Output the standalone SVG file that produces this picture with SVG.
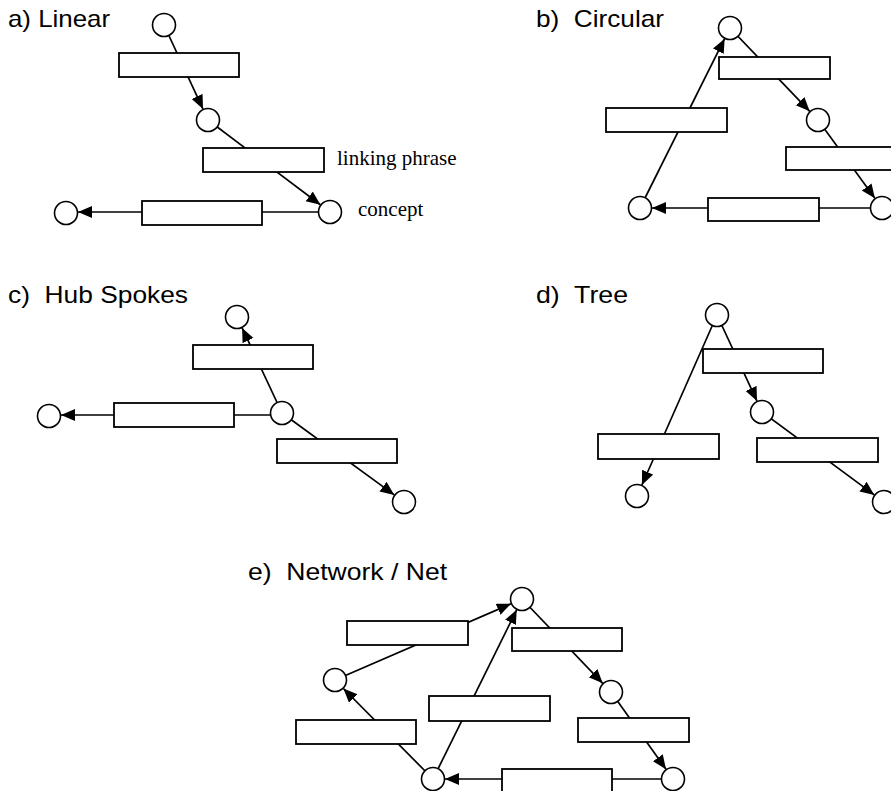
<svg xmlns="http://www.w3.org/2000/svg" width="891" height="791" viewBox="0 0 891 791">
<style>
.t{font-family:"Liberation Sans",Arial,sans-serif;font-size:24px;fill:#000}
.s{font-family:"Liberation Serif","Times New Roman",serif;font-size:21px;fill:#000}
.c{fill:#fff;stroke:#000;stroke-width:1.6}
.r{fill:#fff;stroke:#000;stroke-width:1.8}
.l{stroke:#000;stroke-width:1.7;fill:none}
.a{marker-end:url(#ah)}
</style>
<defs>
<marker id="ah" markerUnits="userSpaceOnUse" markerWidth="15" markerHeight="13" refX="14" refY="6" orient="auto">
<path d="M0,0 L14,6 L0,12 z" fill="#000"/>
</marker>
</defs>
<rect width="891" height="791" fill="#fff"/>
<g id="titles">
<text class="t" x="8" y="27" textLength="102" lengthAdjust="spacingAndGlyphs">a) Linear</text>
<text class="t" x="536" y="27" textLength="128" lengthAdjust="spacingAndGlyphs" xml:space="preserve">b)  Circular</text>
<text class="t" x="8" y="303" textLength="180" lengthAdjust="spacingAndGlyphs" xml:space="preserve">c)  Hub Spokes</text>
<text class="t" x="536" y="303" textLength="92" lengthAdjust="spacingAndGlyphs" xml:space="preserve">d)  Tree</text>
<text class="t" x="248" y="580" textLength="199" lengthAdjust="spacingAndGlyphs" xml:space="preserve">e)  Network / Net</text>
</g>
<g id="connectors">
<line class="l a" x1="164" y1="25" x2="203" y2="109.1"/>
<line class="l a" x1="208" y1="120" x2="320.4" y2="204.8"/>
<line class="l a" x1="330" y1="212" x2="78" y2="212"/>
<line class="l a" x1="730" y1="28" x2="809.7" y2="111.3"/>
<line class="l a" x1="818" y1="120" x2="874.9" y2="198.3"/>
<line class="l a" x1="882" y1="208" x2="652" y2="208"/>
<line class="l a" x1="640" y1="208" x2="724.6" y2="38.7"/>
<line class="l a" x1="282" y1="413" x2="242.1" y2="327.9"/>
<line class="l a" x1="282" y1="415" x2="61" y2="415"/>
<line class="l a" x1="282" y1="413" x2="394.3" y2="494.9"/>
<line class="l a" x1="717" y1="315" x2="757" y2="401.1"/>
<line class="l a" x1="717" y1="315" x2="641.9" y2="485"/>
<line class="l a" x1="762" y1="412" x2="874.3" y2="494.9"/>
<line class="l a" x1="335" y1="680" x2="511" y2="603.8"/>
<line class="l a" x1="433" y1="779" x2="516.7" y2="609.8"/>
<line class="l a" x1="522" y1="599" x2="602.7" y2="683.3"/>
<line class="l a" x1="611" y1="692" x2="666" y2="769.2"/>
<line class="l a" x1="673" y1="779" x2="445" y2="779"/>
<line class="l a" x1="433" y1="779" x2="343.4" y2="688.5"/>
</g>
<g id="a-c1"><circle class="c" cx="164" cy="25" r="11.5"/></g>
<g id="a-r1"><rect class="r" x="119" y="53" width="120" height="24"/></g>
<g id="a-c2"><circle class="c" cx="208" cy="120" r="11.5"/></g>
<g id="a-r2"><rect class="r" x="203" y="148" width="121" height="24"/><text class="s" x="337" y="165">linking phrase</text></g>
<g id="a-c3"><circle class="c" cx="330" cy="212" r="11.5"/><text class="s" x="358" y="216">concept</text></g>
<g id="a-r3"><rect class="r" x="142" y="201" width="120" height="24"/></g>
<g id="a-c4"><circle class="c" cx="66" cy="213" r="11.5"/></g>
<g id="b-c1"><circle class="c" cx="730" cy="28" r="11.5"/></g>
<g id="b-r1"><rect class="r" x="719" y="57" width="111" height="22"/></g>
<g id="b-c2"><circle class="c" cx="818" cy="120" r="11.5"/></g>
<g id="b-r2"><rect class="r" x="786" y="147" width="120" height="23"/></g>
<g id="b-c3"><circle class="c" cx="882" cy="208" r="11.5"/></g>
<g id="b-r3"><rect class="r" x="708" y="198" width="111" height="23"/></g>
<g id="b-c4"><circle class="c" cx="640" cy="208" r="11.5"/></g>
<g id="b-r4"><rect class="r" x="606" y="108" width="121" height="24"/></g>
<g id="c-top"><circle class="c" cx="237" cy="317" r="11.5"/></g>
<g id="c-r1"><rect class="r" x="193" y="345" width="120" height="24"/></g>
<g id="c-hub"><circle class="c" cx="282" cy="413" r="11.5"/></g>
<g id="c-r2"><rect class="r" x="114" y="403" width="120" height="24"/></g>
<g id="c-left"><circle class="c" cx="49" cy="416" r="11.5"/></g>
<g id="c-r3"><rect class="r" x="277" y="439" width="120" height="24"/></g>
<g id="c-br"><circle class="c" cx="404" cy="502" r="11.5"/></g>
<g id="d-root"><circle class="c" cx="717" cy="315" r="11.5"/></g>
<g id="d-r1"><rect class="r" x="703" y="349" width="120" height="24"/></g>
<g id="d-mid"><circle class="c" cx="762" cy="412" r="11.5"/></g>
<g id="d-r2"><rect class="r" x="598" y="434" width="121" height="25"/></g>
<g id="d-bl"><circle class="c" cx="637" cy="496" r="11.5"/></g>
<g id="d-r3"><rect class="r" x="757" y="438" width="121" height="24"/></g>
<g id="d-br"><circle class="c" cx="884" cy="502" r="11.5"/></g>
<g id="e-top"><circle class="c" cx="522" cy="599" r="11.5"/></g>
<g id="e-r1"><rect class="r" x="347" y="621" width="121" height="24"/></g>
<g id="e-r2"><rect class="r" x="512" y="628" width="110" height="23"/></g>
<g id="e-left"><circle class="c" cx="335" cy="680" r="11.5"/></g>
<g id="e-right"><circle class="c" cx="611" cy="692" r="11.5"/></g>
<g id="e-r3"><rect class="r" x="429" y="696" width="121" height="25"/></g>
<g id="e-r4"><rect class="r" x="296" y="720" width="120" height="24"/></g>
<g id="e-r5"><rect class="r" x="578" y="718" width="111" height="24"/></g>
<g id="e-bl"><circle class="c" cx="433" cy="779" r="11.5"/></g>
<g id="e-r6"><rect class="r" x="502" y="769" width="110" height="23"/></g>
<g id="e-br"><circle class="c" cx="673" cy="779" r="11.5"/></g>
</svg>
